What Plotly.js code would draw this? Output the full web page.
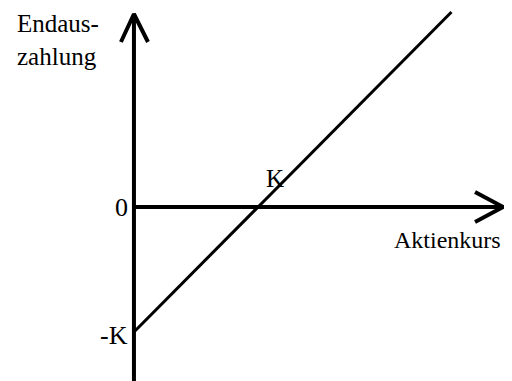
<!DOCTYPE html>
<html>
<head>
<meta charset="utf-8">
<script src="https://cdn.plot.ly/plotly-3.0.1.min.js"></script>
<style>html,body{margin:0;padding:0;background:#fff;}#chart{width:512px;height:381px;}</style>
</head>
<body>
<div id="chart"></div>
<script>
// Payoff of a long forward: Endauszahlung = Aktienkurs - K  (K = 1 unit)
const K = 1;
const kursValues = [0, 2.56];
const payoffValues = kursValues.map(s => s - K);
const yTickLabels = ["0", "-K"];
const yTickValues = [0, -K];
const strikeLabel = "K";
const xAxisTitle = "Aktienkurs";
const yAxisTitle = "Endaus-<br>zahlung";

const xRange = [-1.08, 3.048];
const yRange = [-1.392, 1.656];
const axisColor = "#000";
const fontFam = "Liberation Serif";

const traces = [
  // y axis
  {x: [0, 0], y: [yRange[0], 1.544], mode: "lines", line: {color: axisColor, width: 4}},
  // y arrow head
  {x: [-0.105, 0, 0.113], y: [1.32, 1.544, 1.32], mode: "lines", line: {color: axisColor, width: 4}},
  // x axis
  {x: [0, 2.976], y: [0, 0], mode: "lines", line: {color: axisColor, width: 4}},
  // x arrow head
  {x: [2.75, 2.976, 2.75], y: [0.12, 0, -0.12], mode: "lines", line: {color: axisColor, width: 4}},
  // payoff line
  {x: kursValues, y: payoffValues, mode: "lines", line: {color: axisColor, width: 3}}
];

const f = s => ({family: fontFam, size: s, color: "#000"});
const annotations = [
  {x: -0.265, y: 1.336, xref: "x", yref: "y", text: yAxisTitle, showarrow: false, xanchor: "right", yanchor: "middle", align: "left", font: f(25)},
  {x: -0.03, y: yTickValues[0], xref: "x", yref: "y", text: yTickLabels[0], showarrow: false, xanchor: "right", yanchor: "middle", font: f(26)},
  {x: -0.03, y: yTickValues[1] - 0.024, xref: "x", yref: "y", text: yTickLabels[1], showarrow: false, xanchor: "right", yanchor: "middle", font: f(26)},
  {x: K + 0.137, y: 0.232, xref: "x", yref: "y", text: strikeLabel, showarrow: false, xanchor: "center", yanchor: "middle", font: f(25)},
  {x: 2.524, y: -0.264, xref: "x", yref: "y", text: xAxisTitle, showarrow: false, xanchor: "center", yanchor: "middle", font: f(24)}
];

const layout = {
  width: 512, height: 381,
  margin: {l: 0, r: 0, t: 0, b: 0},
  paper_bgcolor: "#fff", plot_bgcolor: "#fff",
  showlegend: false,
  xaxis: {range: xRange, visible: false, fixedrange: true},
  yaxis: {range: yRange, visible: false, fixedrange: true},
  annotations: annotations
};

Plotly.newPlot("chart", traces, layout, {staticPlot: true, displayModeBar: false});
</script>
</body>
</html>
